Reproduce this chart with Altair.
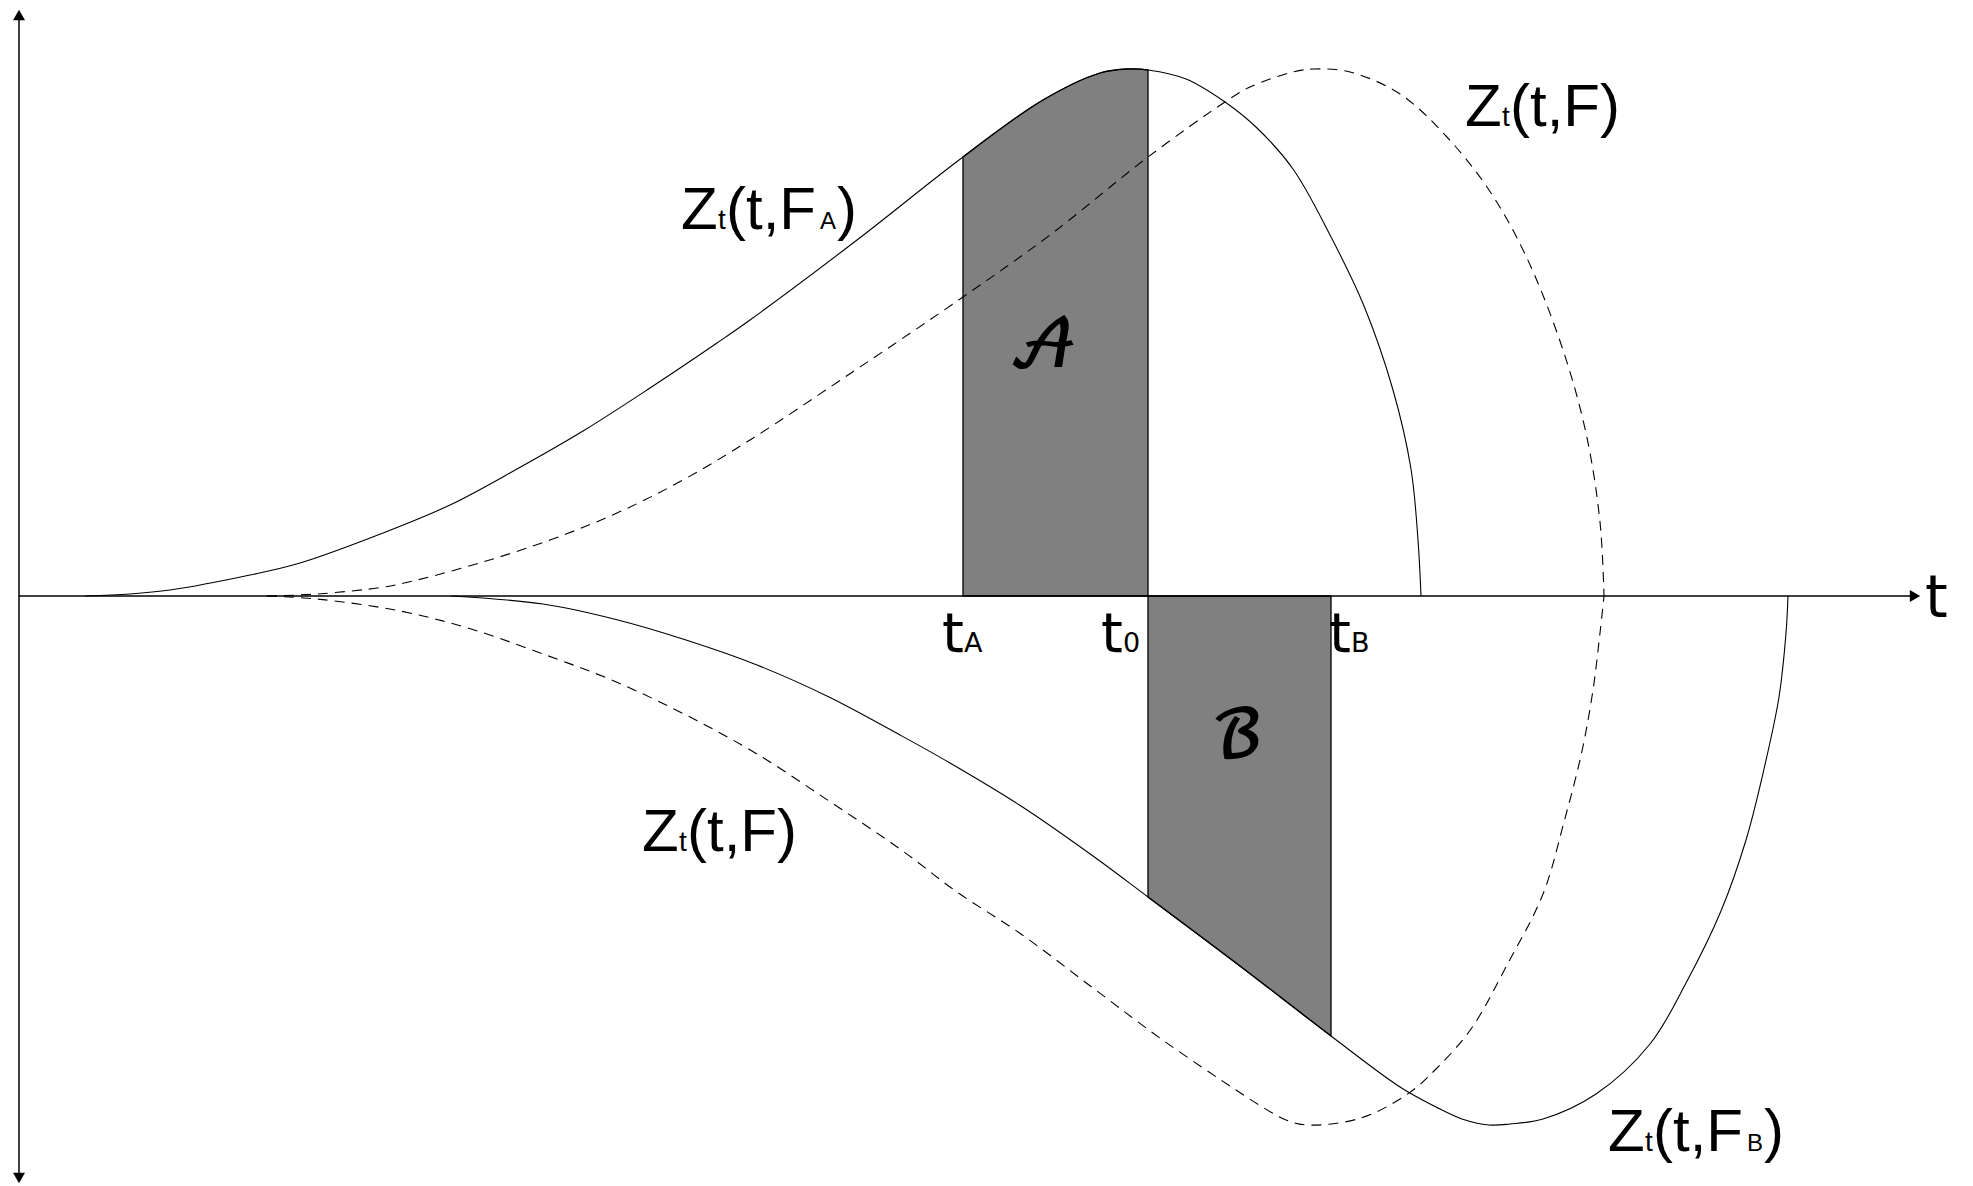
import altair as alt
import pandas as pd

# ---- curves (t along the time axis, Z vertical; axis origin at 0) ----
# Zt(t,F_A): solid, upper
FA_T = [66, 111, 151, 231, 281, 364, 431, 498, 564, 631, 698, 731, 838, 944, 1024, 1081, 1108, 1129,
        1167, 1206, 1238, 1274, 1310, 1345, 1374, 1392, 1399, 1402]
FA_Z = [0, 2, 6, 21, 33, 63, 91, 127, 165, 208, 253, 276, 356, 439, 496, 523, 527, 526,
        517, 494, 468, 427, 363, 290, 206, 127, 56, 0]

# Zt(t,F): dashed, upper
FU_T = [248, 298, 365, 398, 464, 531, 598, 664, 731, 838, 944, 1031, 1129, 1206, 1231, 1274, 1295,
        1331, 1381, 1427, 1470, 1506, 1542, 1567, 1581, 1585]
FU_Z = [0, 2, 9, 16, 34, 56, 83, 116, 156, 227, 299, 361, 439, 494, 509, 524, 527,
        524, 502, 460, 406, 342, 252, 163, 74, 0]

# Zt(t,F_B): solid, lower
FB_T = [432, 524, 595, 667, 738, 810, 881, 931, 1002, 1074, 1129, 1217, 1312, 1381, 1417, 1443, 1470,
        1491, 1524, 1577, 1631, 1667, 1702, 1727, 1745, 1760, 1767, 1769]
FB_Z = [0, -8, -23, -44, -69, -101, -139, -167, -210, -260, -301, -367, -440, -491, -511, -523, -529,
        -528, -523, -498, -448, -387, -315, -244, -173, -101, -37, 0]

# Zt(t,F): dashed, lower
FL_T = [248, 298, 381, 452, 524, 595, 667, 738, 810, 881, 938, 1002, 1074, 1145, 1217, 1245, 1267, 1288,
        1342, 1390, 1417, 1452, 1488, 1524, 1545, 1563, 1574, 1581, 1585]
FL_Z = [0, -3, -15, -33, -58, -85, -119, -158, -205, -253, -296, -338, -392, -445, -494, -512, -524, -529,
        -522, -497, -473, -433, -369, -298, -226, -155, -94, -37, 0]

# marked instants on the t axis
T_A, T_0, T_B = 944, 1129, 1312
T_END = 1901   # end of the t axis (arrow tip)
Z_TOP, Z_BOT = 586, -587

# ---- annotation text pieces (text, t, Z, font size) ----
SANS_TEXT = ["Z", "t", "(t,F", "A", ")",
             "Z", "t", "(t,F)",
             "Z", "t", "(t,F)",
             "Z", "t", "(t,F", "B", ")"]
SANS_T = [662, 699, 707, 801, 818,
          1446, 1483, 1491,
          623, 660, 668,
          1589, 1626, 1634, 1728, 1745]
SANS_Z = [367, 367, 367, 367, 367,
          470, 470, 470,
          -255, -255, -255,
          -555, -555, -555, -555, -555]
SANS_SIZE = [60, 28, 60, 24, 60,
             60, 28, 60,
             60, 28, 60,
             60, 28, 60, 24, 60]

TICK_TEXT = ["t", "A", "t", "0", "t", "B", "t"]
TICK_T = [923, 945, 1082, 1104, 1310, 1332, 1906]
TICK_Z = [-56, -56, -56, -56, -56, -56, -21]
TICK_SIZE = [56, 27, 56, 27, 56, 27, 58]

SCRIPT_TEXT = ["\U0001D49C", "\u212C"]
SCRIPT_T = [1024, 1218]
SCRIPT_Z = [249, -141]

# ---- build ----
x_scale = alt.Scale(domain=[-11, 1931], nice=False, zero=False)
y_scale = alt.Scale(domain=[-588, 588], nice=False, zero=False)
CURVE = "catmull-rom"


def X(field="t"):
    return alt.X(f"{field}:Q", scale=x_scale, axis=None)


def Y(field="z"):
    return alt.Y(f"{field}:Q", scale=y_scale, axis=None)


def curve_df(ts, zs):
    return pd.DataFrame({"t": ts, "z": zs, "o": list(range(len(ts)))})


fa = curve_df(FA_T, FA_Z)
fu = curve_df(FU_T, FU_Z)
fb = curve_df(FB_T, FB_Z)
fl = curve_df(FL_T, FL_Z)

region_a = fa[(fa.t >= T_A) & (fa.t <= T_0)][["t", "z"]]
region_b = fb[(fb.t >= T_0) & (fb.t <= T_B)][["t", "z"]]

area_kw = dict(fill="#808080", stroke="black", strokeWidth=1.3, fillOpacity=1, strokeOpacity=1,
               interpolate=CURVE)
area_a = alt.Chart(region_a).mark_area(**area_kw).encode(x=X(), y=Y(), y2=alt.datum(0))
area_b = alt.Chart(region_b).mark_area(**area_kw).encode(x=X(), y=Y(), y2=alt.datum(0))


def solid(df):
    return alt.Chart(df).mark_line(color="black", strokeWidth=1.1, interpolate=CURVE).encode(
        x=X(), y=Y(), order="o:Q")


def dashed(df):
    return alt.Chart(df).mark_line(color="black", strokeWidth=1.1, strokeDash=[10, 7],
                                   interpolate=CURVE).encode(x=X(), y=Y(), order="o:Q")


axes_df = pd.DataFrame({"t": [0], "t2": [T_END - 5], "z": [Z_TOP - 5], "z2": [Z_BOT + 5], "zero": [0]})
y_axis = alt.Chart(axes_df).mark_rule(color="black", strokeWidth=1.5).encode(
    x=X(), y=Y(), y2=alt.Y2("z2:Q"))
x_axis = alt.Chart(axes_df).mark_rule(color="black", strokeWidth=1.5).encode(
    x=X(), x2=alt.X2("t2:Q"), y=Y("zero"))

arrows_df = pd.DataFrame({
    "t": [0, 0, T_END - 5],
    "z": [Z_TOP - 5, Z_BOT + 5, 0],
    "shape": ["triangle-up", "triangle-down", "triangle-right"],
})
arrows = alt.Chart(arrows_df).mark_point(filled=True, size=144, color="black", opacity=1).encode(
    x=X(), y=Y(), shape=alt.Shape("shape:N", scale=None))

sans_df = pd.DataFrame({"text": SANS_TEXT, "t": SANS_T, "z": SANS_Z, "fs": SANS_SIZE})
sans = alt.Chart(sans_df).mark_text(font="Liberation Sans", align="left", baseline="alphabetic",
                                    color="black").encode(
    x=X(), y=Y(), text="text:N", size=alt.Size("fs:Q", scale=None))

tick_df = pd.DataFrame({"text": TICK_TEXT, "t": TICK_T, "z": TICK_Z, "fs": TICK_SIZE})
ticks = alt.Chart(tick_df).mark_text(font="DejaVu Sans", align="left", baseline="alphabetic",
                                     color="black").encode(
    x=X(), y=Y(), text="text:N", size=alt.Size("fs:Q", scale=None))

script_df = pd.DataFrame({"text": SCRIPT_TEXT, "t": SCRIPT_T, "z": SCRIPT_Z})
script = alt.Chart(script_df).mark_text(font="DejaVu Math TeX Gyre, DejaVu Serif, serif",
                                        align="center", baseline="middle", fontSize=64,
                                        fontWeight="bold", color="black").encode(
    x=X(), y=Y(), text="text:N")

chart = alt.layer(
    area_a, area_b,
    solid(fa), dashed(fu), solid(fb), dashed(fl),
    y_axis, x_axis, arrows,
    sans, ticks, script,
).properties(
    width=1942, height=1176, padding=0,
    autosize=alt.AutoSizeParams(type="none"),
    background="white",
).configure_view(stroke=None)

chart.save("out.html", embed_options={"renderer": "svg", "actions": False})
